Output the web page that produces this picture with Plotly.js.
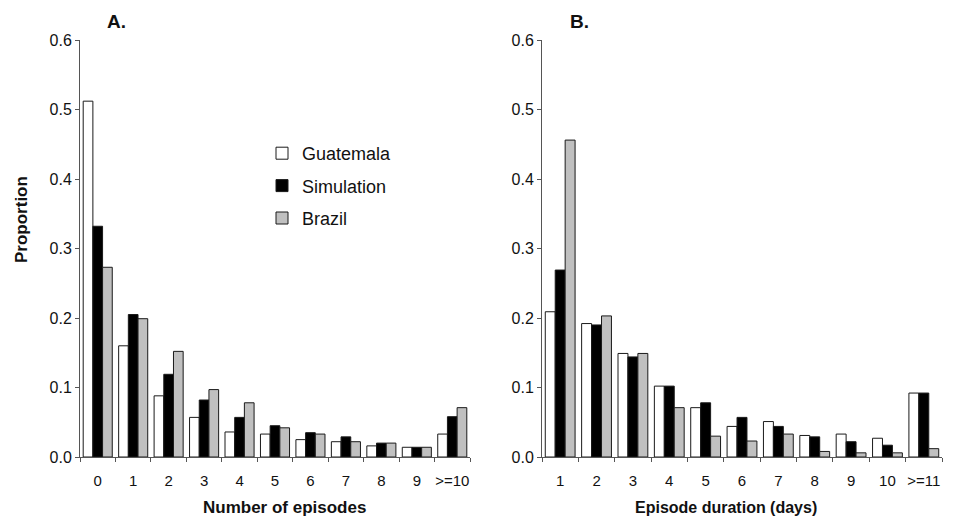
<!DOCTYPE html>
<html>
<head>
<meta charset="utf-8">
<script src="https://cdn.plot.ly/plotly-3.0.1.min.js"></script>
<style>html,body{margin:0;padding:0;background:#fff;}#chart{width:953px;height:517px;}</style>
</head>
<body>
<div id="chart"></div>
<script>
// Panel A: number of episodes
var catsA = ["0","1","2","3","4","5","6","7","8","9",">=10"];
var guatemalaA = [0.512,0.160,0.088,0.057,0.036,0.033,0.025,0.022,0.016,0.014,0.033];
var simulationA = [0.332,0.205,0.119,0.082,0.057,0.045,0.035,0.029,0.020,0.014,0.058];
var brazilA = [0.273,0.199,0.152,0.097,0.078,0.042,0.033,0.022,0.020,0.014,0.071];

// Panel B: episode duration (days)
var catsB = ["1","2","3","4","5","6","7","8","9","10",">=11"];
var guatemalaB = [0.209,0.192,0.149,0.102,0.071,0.044,0.051,0.031,0.033,0.027,0.092];
var simulationB = [0.269,0.190,0.144,0.102,0.078,0.057,0.044,0.029,0.022,0.017,0.092];
var brazilB = [0.456,0.203,0.149,0.071,0.030,0.023,0.033,0.008,0.006,0.006,0.012];

var seriesNames = ["Guatemala","Simulation","Brazil"];
var seriesColors = ["#ffffff","#000000","#c0c0c0"];

var regular = "'Liberation Sans', Arial, sans-serif";

function mk(cats, vals, i, xa, ya, show) {
  return {
    type: "bar", x: cats, y: vals, name: seriesNames[i],
    xaxis: xa, yaxis: ya, showlegend: show, legendgroup: seriesNames[i],
    marker: {color: seriesColors[i], line: {color: "#1a1a1a", width: 1}},
    hoverinfo: "x+y+name"
  };
}

var data = [
  mk(catsA, guatemalaA, 0, "x", "y", true),
  mk(catsA, simulationA, 1, "x", "y", true),
  mk(catsA, brazilA, 2, "x", "y", true),
  mk(catsB, guatemalaB, 0, "x2", "y2", false),
  mk(catsB, simulationB, 1, "x2", "y2", false),
  mk(catsB, brazilB, 2, "x2", "y2", false)
];

var xCommon = {
  type: "category", tickson: "boundaries", ticks: "outside", ticklen: 4,
  tickcolor: "#555", showline: true, linecolor: "#555", linewidth: 1,
  showgrid: false, zeroline: false, tickangle: 0,
  tickfont: {family: regular, size: 15, color: "#111"},
  ticklabelstandoff: 10, fixedrange: true
};
var yCommon = {
  range: [0, 0.6], tick0: 0, dtick: 0.1, ticks: "outside", ticklen: 4,
  tickcolor: "#555", showline: true, linecolor: "#555", linewidth: 1,
  showgrid: false, zeroline: false, tickformat: ".1f",
  tickfont: {family: regular, size: 16, color: "#111"}, fixedrange: true
};
function ext(a, b) { var o = {}; for (var k in a) o[k] = a[k]; for (var k2 in b) o[k2] = b[k2]; return o; }

function ann(text, px, py, size, angle) {
  return {text: text, x: px/953, y: 1 - py/517, xref: "paper", yref: "paper",
          xanchor: "center", yanchor: "middle", showarrow: false, textangle: angle || 0,
          font: {family: regular, size: size, color: "#111"}};
}

var layout = {
  width: 953, height: 517,
  margin: {l: 0, r: 0, t: 0, b: 0},
  paper_bgcolor: "#fff", plot_bgcolor: "#fff",
  barmode: "group", bargap: 0.18, bargroupgap: 0,
  font: {family: regular, color: "#111"},
  xaxis: ext(xCommon, {domain: [80/953, 470/953], anchor: "y"}),
  yaxis: ext(yCommon, {domain: [60/517, 477/517], anchor: "x"}),
  xaxis2: ext(xCommon, {domain: [542/953, 942/953], anchor: "y2"}),
  yaxis2: ext(yCommon, {domain: [60/517, 477/517], anchor: "x2"}),
  legend: {
    x: 262/953, y: 1 - 135/517, xanchor: "left", yanchor: "top",
    traceorder: "grouped", tracegroupgap: 6, itemwidth: 30,
    font: {family: regular, size: 18, color: "#111"}, bgcolor: "rgba(0,0,0,0)"
  },
  annotations: [
    ann("<b>A.</b>", 116, 22, 19),
    ann("<b>B.</b>", 579, 22, 19),
    ann("<b>Number of episodes</b>", 284, 507, 17),
    ann("<b>Episode duration (days)</b>", 726, 507, 16),
    ann("<b>Proportion</b>", 22, 220, 17, -90)
  ]
};

Plotly.newPlot("chart", data, layout, {displayModeBar: false, staticPlot: true});
</script>
</body>
</html>
